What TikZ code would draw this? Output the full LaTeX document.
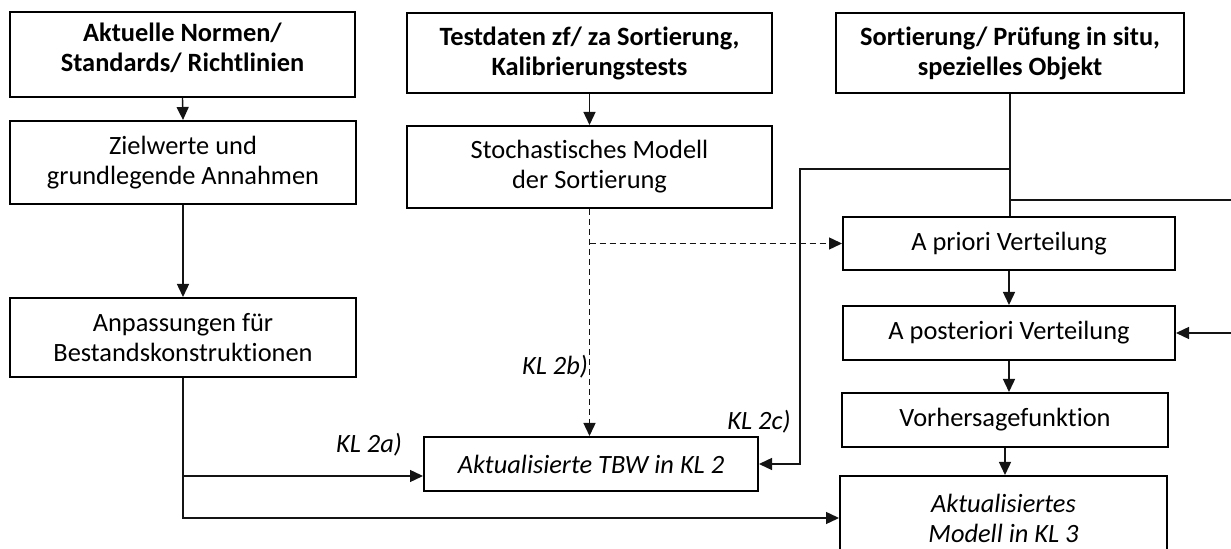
\documentclass[tikz,border=0pt]{standalone}
\usepackage{fontspec}
\setmainfont{Carlito}[Ligatures=NoCommon]
\usetikzlibrary{arrows.meta}
\definecolor{boxline}{RGB}{0,0,0}
\definecolor{linecol}{RGB}{20,20,20}

\begin{document}
\begin{tikzpicture}[x=0.5pt,y=-0.5pt,
  box/.style={draw=boxline, line width=1pt, align=center, inner sep=0pt, font=\fontsize{13.2}{15}\selectfont},
  headbox/.style={box, font=\fontsize{13.2}{15}\selectfont\bfseries},
  itbox/.style={box, font=\fontsize{13.2}{15}\selectfont\itshape},
  conn/.style={draw=linecol, line width=0.7pt, -{Triangle[length=6.5pt,width=6pt]}},
  plain/.style={draw=linecol, line width=0.7pt},
  lab/.style={font=\fontsize{13.2}{15}\selectfont\itshape}]
  \clip (0,0) rectangle (1231,549);
  % linke Spalte
  \node[headbox, minimum width=172.5pt, minimum height=42.5pt, text depth=7.5pt] (norm) at (182.5,54.5) {Aktuelle Normen/\\Standards/ Richtlinien};
  \node[box, minimum width=173pt, minimum height=41.5pt] (ziel) at (183,162.5) {Zielwerte und\\grundlegende Annahmen};
  \node[box, minimum width=173pt, minimum height=39.5pt] (anpass) at (183,337.5) {Anpassungen für\\Bestandskonstruktionen};
  % mittlere Spalte
  \node[headbox, minimum width=182.5pt, minimum height=40pt] (test) at (589.5,53) {Testdaten zf/ za Sortierung,\\Kalibrierungstests};
  \node[box, minimum width=182.5pt, minimum height=41pt] (stoch) at (589.5,167) {Stochastisches Modell\\der Sortierung};
  \node[itbox, minimum width=167pt, minimum height=27pt] (tbw) at (591,464) {Aktualisierte TBW in KL 2};
  % rechte Spalte
  \node[headbox, minimum width=174pt, minimum height=40pt] (sort) at (1010,53) {Sortierung/ Prüfung in situ,\\spezielles Objekt};
  \node[box, minimum width=166pt, minimum height=26.5pt] (prior) at (1009,243.5) {A priori Verteilung};
  \node[box, minimum width=166pt, minimum height=27pt] (post) at (1009,333) {A posteriori Verteilung};
  \node[box, minimum width=163pt, minimum height=27pt] (vorh) at (1005,420) {Vorhersagefunktion};
  \node[itbox, minimum width=163.5pt, minimum height=42pt] (modell) at (1003.5,518) {Aktualisiertes\\Modell in KL 3};
  % Beschriftungen
  \node[lab] (kla) at (369,445) {KL 2a)};
  \node[lab] (klb) at (555,367) {KL 2b)};
  \node[lab] (klc) at (759,422) {KL 2c)};
  % Hilfspunkte
  \coordinate (ka) at (183,476);
  \coordinate (kc) at (800,464);
  \coordinate (j1) at (1010,169);
  \coordinate (j2) at (1010,200);
  \coordinate (r1) at (1240,200);
  \coordinate (r2) at (1240,333);

  \draw[conn] (norm.south) -- (ziel.north);
  \draw[conn] (ziel.south) -- (anpass.north);
  \draw[conn] (anpass.south) |- (modell.west);
  \draw[conn] (ka) -- (ka -| tbw.west);

  \draw[conn] (test.south) -- (stoch.south |- stoch.north);
  \draw[conn, dash pattern=on 3pt off 2pt] (stoch.south) -- (stoch.south |- tbw.north);
  \draw[conn, dash pattern=on 3pt off 2pt] (stoch.south |- prior.west) -- (prior.west);

  \draw[plain] (sort.south) -- (sort.south |- prior.north);
  \draw[conn] (j1) -| (kc) -- (tbw.east);
  \draw[plain] (j2) -- (r1);
  \draw[conn] (r2) -- (post.east);
  \draw[conn] (prior.south) -- (post.north);
  \draw[conn] (post.south) -- (post.south |- vorh.north);
  \draw[conn] (vorh.south) -- (vorh.south |- modell.north);
\end{tikzpicture}
\end{document}
